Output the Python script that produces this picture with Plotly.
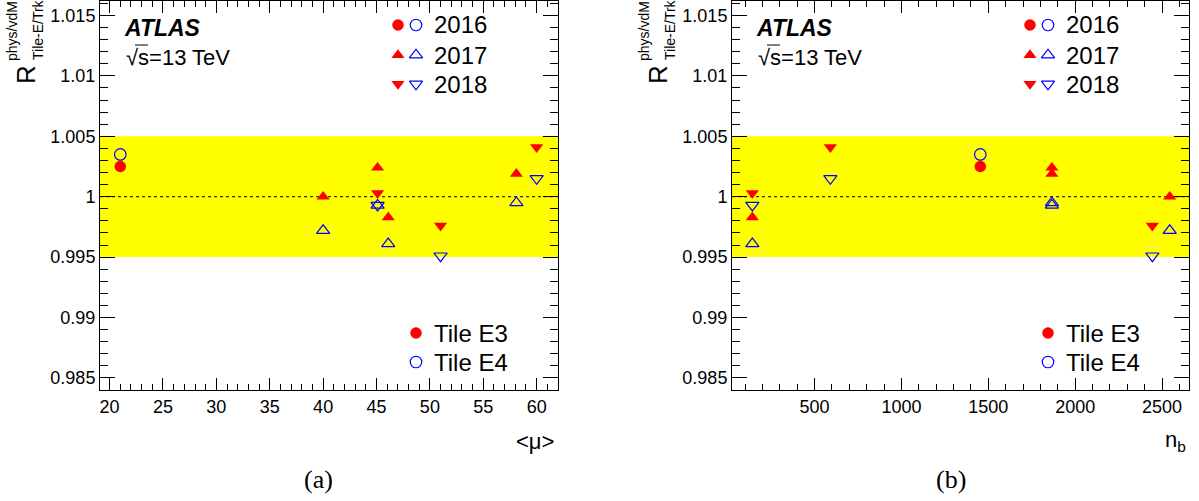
import plotly.graph_objects as go

W, H = 1199, 501

# ---------------- data ----------------
run_year = ["2016", "2017", "2017", "2017", "2017", "2018", "2018", "2018"]
mu_avg = [21.0, 40.0, 45.1, 46.1, 58.1, 45.1, 51.0, 60.0]
n_bunches = [1454, 2544, 1866, 142, 1866, 142, 2444, 591]
ratio_e3 = [1.0025, 1.0000, 1.0024, 0.9983, 1.0019, 1.0003, 0.9976, 1.0041]
ratio_e4 = [1.0035, 0.9972, 0.9993, 0.9961, 0.9995, 0.9993, 0.9951, 1.0015]

years = ["2016", "2017", "2018"]
y_ticks = [0.985, 0.99, 0.995, 1.0, 1.005, 1.01, 1.015]
y_ticktext = ["0.985", "0.99", "0.995", "1", "1.005", "1.01", "1.015"]
mu_ticks = [20, 25, 30, 35, 40, 45, 50, 55, 60]
nb_ticks = [500, 1000, 1500, 2000, 2500]
band_lo, band_hi = 0.995, 1.005

# ---------------- styles / layout ----------------
RED = "#ff0000"
BLUE = "#0000ff"
FONT = "Liberation Sans, Arial, sans-serif"
SERIF = "Liberation Serif, Times New Roman, serif"
sym_filled = {"2016": "circle", "2017": "triangle-up", "2018": "triangle-down"}
sym_open = {"2016": "circle-open", "2017": "triangle-up-open", "2018": "triangle-down-open"}
msize = {"2016": 11.5, "2017": 11.5, "2018": 11.5}

Y_RANGE = [0.984, 1.0162]
PLOT_TOP, PLOT_BOT = 1, 390
panel_cfg = [
    dict(xa="x", ya="y", xvals=mu_avg, left=100, right=558, xrange=[19.1, 62], off=0),
    dict(xa="x2", ya="y2", xvals=n_bunches, left=732, right=1189, xrange=[25, 2655], off=632),
]


def px(x):
    return x / W


def py(y):
    return 1 - y / H


def pix_to_data(cfg, x, y):
    xr = cfg["xrange"]
    xd = xr[0] + (x - cfg["left"]) / (cfg["right"] - cfg["left"]) * (xr[1] - xr[0])
    yd = Y_RANGE[1] - (y - PLOT_TOP) / (PLOT_BOT - PLOT_TOP) * (Y_RANGE[1] - Y_RANGE[0])
    return xd, yd


def note(x, y, text, size, xanchor="left", yanchor="middle", family=FONT, angle=0):
    return dict(x=px(x), y=py(y), xref="paper", yref="paper", text=text,
                xanchor=xanchor, yanchor=yanchor, showarrow=False, textangle=angle,
                font=dict(family=family, size=size, color="black"))


fig = go.Figure()

for cfg in panel_cfg:
    for yr in years:
        idx = [i for i, r in enumerate(run_year) if r == yr]
        fig.add_trace(go.Scatter(
            x=[cfg["xvals"][i] for i in idx], y=[ratio_e3[i] for i in idx],
            mode="markers", xaxis=cfg["xa"], yaxis=cfg["ya"], showlegend=False,
            marker=dict(symbol=sym_filled[yr], color=RED, size=msize[yr], opacity=1,
                        line=dict(width=0)),
        ))
        fig.add_trace(go.Scatter(
            x=[cfg["xvals"][i] for i in idx], y=[ratio_e4[i] for i in idx],
            mode="markers", xaxis=cfg["xa"], yaxis=cfg["ya"], showlegend=False,
            marker=dict(symbol=sym_open[yr], color=BLUE, size=msize[yr], opacity=1,
                        line=dict(width=1.2, color=BLUE)),
        ))

# ------------- hand-made legends and labels -------------
leg_rows = {"2016": 25, "2017": 55, "2018": 84}
tile_rows = [("Tile E3", "circle", RED, 333), ("Tile E4", "circle-open", BLUE, 362)]
annotations = []
shapes = []
for cfg in panel_cfg:
    off = cfg["off"]
    entries = []
    for yr in years:
        entries.append((398 + off, leg_rows[yr], sym_filled[yr], RED, msize[yr]))
        entries.append((416 + off, leg_rows[yr], sym_open[yr], BLUE, msize[yr]))
        annotations.append(note(432 + off, leg_rows[yr], yr, 24))
    for name, sym, col, yy in tile_rows:
        entries.append((416 + off, yy, sym, col, 11.5))
        annotations.append(note(432 + off, yy, name, 24))
    for ex, ey, sym, col, sz in entries:
        xd, yd = pix_to_data(cfg, ex, ey)
        fig.add_trace(go.Scatter(
            x=[xd], y=[yd], mode="markers", xaxis=cfg["xa"], yaxis=cfg["ya"],
            showlegend=False, cliponaxis=False, hoverinfo="skip",
            marker=dict(symbol=sym, color=col, size=sz, opacity=1,
                        line=dict(width=1.2 if "open" in sym else 0, color=col)),
        ))
    annotations.append(note(122 + off, 28, "<b><i>ATLAS</i></b>", 23))
    annotations.append(note(124 + off, 57, "√s=13 TeV", 22))
    shapes.append(dict(type="line", xref="paper", yref="paper",
                       x0=px(135 + off), x1=px(148 + off), y0=py(45), y1=py(45),
                       line=dict(color="black", width=1)))
    # y-axis title  R^{phys/vdM}_{Tile-E/Trk}
    annotations.append(note(26 + off, 75, "R", 26, "center", "middle", angle=-90))
    annotations.append(note(12 + off, 31, "phys/vdM", 14, "center", "middle", angle=-90))
    annotations.append(note(38 + off, 30, "Tile-E/Trk", 14, "center", "middle", angle=-90))

annotations.append(note(556, 441, "&lt;μ&gt;", 22, "right"))
annotations.append(note(1188, 441, "n<sub>b</sub>", 22, "right"))
annotations.append(note(318, 479, "(a)", 26, "center", family=SERIF))
annotations.append(note(951, 479, "(b)", 26, "center", family=SERIF))

# ------------- band and reference line -------------
for xr, yr_ in (("x domain", "y"), ("x2 domain", "y2")):
    shapes.append(dict(type="rect", xref=xr, yref=yr_, x0=0, x1=1, y0=band_lo, y1=band_hi,
                       fillcolor="#ffff00", line=dict(width=0), layer="below"))
    shapes.append(dict(type="line", xref=xr, yref=yr_, x0=0, x1=1, y0=1.0, y1=1.0,
                       line=dict(color="black", width=1, dash="3px,3px"), layer="below"))

ydom = [py(PLOT_BOT), py(PLOT_TOP)]
common_axis = dict(showline=True, linecolor="black", linewidth=1, mirror="allticks",
                   ticks="inside", tickcolor="black", tickwidth=1, showgrid=False,
                   zeroline=False, tickfont=dict(family=FONT, size=18, color="black"))
ymin = dict(ticks="inside", dtick=0.001, tick0=0.98, ticklen=8, tickcolor="black")

fig.update_layout(
    width=W, height=H, margin=dict(l=0, r=0, t=0, b=0),
    paper_bgcolor="white", plot_bgcolor="white",
    xaxis=dict(domain=[px(100), px(558)], range=panel_cfg[0]["xrange"], tickvals=mu_ticks,
               ticklen=12, minor=dict(ticks="inside", dtick=1, tick0=0, ticklen=6,
                                      tickcolor="black"),
               anchor="y", **common_axis),
    yaxis=dict(domain=ydom, range=Y_RANGE, tickvals=y_ticks, ticktext=y_ticktext,
               ticklen=15, minor=ymin, anchor="x", **common_axis),
    xaxis2=dict(domain=[px(732), px(1189)], range=panel_cfg[1]["xrange"], tickvals=nb_ticks,
                ticklen=12, minor=dict(ticks="inside", dtick=100, tick0=0, ticklen=6,
                                       tickcolor="black"),
                anchor="y2", **common_axis),
    yaxis2=dict(domain=ydom, range=Y_RANGE, tickvals=y_ticks, ticktext=y_ticktext,
                ticklen=15, minor=ymin, anchor="x2", **common_axis),
    shapes=shapes,
    annotations=annotations,
)

fig.write_html("out.html", post_script="document.body.style.margin='0px';",
               config={"displayModeBar": False})
